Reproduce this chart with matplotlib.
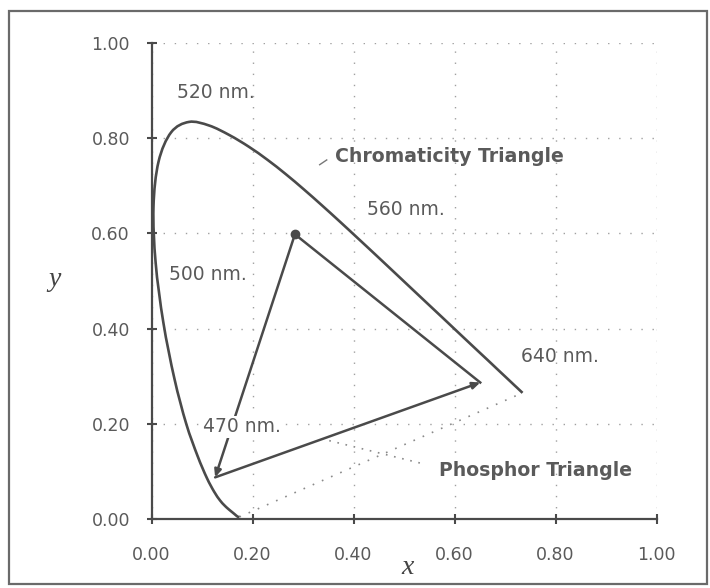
import matplotlib
matplotlib.use("Agg")
import matplotlib.pyplot as plt
import numpy as np
from matplotlib.patches import Rectangle, PathPatch
from matplotlib.path import Path

# Spectral locus (CIE 1931 chromaticity), 380 nm .. 700 nm
locus_x = [0.1741, 0.1740, 0.1738, 0.1736, 0.1733, 0.1730, 0.1726, 0.1721, 0.1714, 0.1703,
           0.1689, 0.1669, 0.1644, 0.1611, 0.1566, 0.1510, 0.1440, 0.1355, 0.1241, 0.1096,
           0.0913, 0.0687, 0.0454, 0.0235, 0.0082, 0.0039, 0.0139, 0.0389, 0.0743, 0.1142,
           0.1547, 0.1929, 0.2296, 0.2658, 0.3016, 0.3373, 0.3731, 0.4087, 0.4441, 0.4788,
           0.5125, 0.5448, 0.5752, 0.6029, 0.6270, 0.6482, 0.6658, 0.6801, 0.6915, 0.7006,
           0.7079, 0.7140, 0.7190, 0.7230, 0.7260, 0.7300, 0.7334, 0.7347]
locus_y = [0.0050, 0.0050, 0.0049, 0.0049, 0.0048, 0.0048, 0.0048, 0.0048, 0.0051, 0.0058,
           0.0069, 0.0086, 0.0109, 0.0138, 0.0177, 0.0227, 0.0297, 0.0399, 0.0578, 0.0868,
           0.1327, 0.2007, 0.2950, 0.4127, 0.5384, 0.6548, 0.7502, 0.8120, 0.8338, 0.8262,
           0.8059, 0.7816, 0.7543, 0.7243, 0.6923, 0.6589, 0.6245, 0.5896, 0.5547, 0.5202,
           0.4866, 0.4544, 0.4242, 0.3965, 0.3725, 0.3514, 0.3340, 0.3197, 0.3083, 0.2993,
           0.2920, 0.2859, 0.2809, 0.2770, 0.2740, 0.2700, 0.2666, 0.2653]

# Phosphor primaries (green, red, blue)
phosphor_names = ["green", "red", "blue"]
phosphor_x = [0.284, 0.651, 0.126]
phosphor_y = [0.598, 0.287, 0.088]

# Annotations
labels = ["520 nm.", "500 nm.", "560 nm.", "640 nm.", "470 nm."]
label_x = [0.051, 0.034, 0.427, 0.731, 0.102]
label_y = [0.895, 0.513, 0.649, 0.341, 0.194]
bold_labels = ["Chromaticity Triangle", "Phosphor Triangle"]
bold_x = [0.364, 0.570]
bold_y = [0.761, 0.103]

ticks = [0.0, 0.2, 0.4, 0.6, 0.8, 1.0]
tick_labels = ["0.00", "0.20", "0.40", "0.60", "0.80", "1.00"]

LINE = "#4a4a4a"
TEXT = "#5a5a5a"


def smooth_path(xs, ys):
    """Catmull-Rom through the points, as cubic Bezier path (data coords)."""
    p = np.column_stack([xs, ys])
    n = len(p)
    verts = [p[0]]
    codes = [Path.MOVETO]
    for i in range(n - 1):
        p0 = p[i - 1] if i > 0 else p[i]
        p1 = p[i]
        p2 = p[i + 1]
        p3 = p[i + 2] if i + 2 < n else p[i + 1]
        c1 = p1 + (p2 - p0) / 6.0
        c2 = p2 - (p3 - p1) / 6.0
        verts += [c1, c2, p2]
        codes += [Path.CURVE4] * 3
    return Path(verts, codes)


fig = plt.figure(figsize=(7.1, 5.88), dpi=100)
ax = fig.add_axes([151.5 / 710, 1 - 519.3 / 588, 505 / 710, 476.6 / 588])

# frame around the whole figure
fig.patches.append(Rectangle((9 / 710, 1 - 584 / 588), 698 / 710, 573 / 588,
                             transform=fig.transFigure, fill=False,
                             edgecolor="#6a6a6a", linewidth=1.6))

ax.set_xlim(0, 1)
ax.set_ylim(0, 1)
for s in ["top", "right"]:
    ax.spines[s].set_visible(False)
for s in ["left", "bottom"]:
    ax.spines[s].set_color(LINE)
    ax.spines[s].set_linewidth(1.6)

ax.set_xticks(ticks)
ax.set_xticklabels(tick_labels)
ax.set_yticks(ticks)
ax.set_yticklabels(tick_labels)
ax.tick_params(axis="both", direction="inout", length=7, width=1.5, color=LINE,
               labelcolor=TEXT, labelsize=12.5)
ax.tick_params(axis="x", pad=16)
ax.tick_params(axis="y", pad=12)

ax.grid(True, linestyle=(0, (1, 7)), color="#a0a0a0", linewidth=1.0)
ax.set_axisbelow(True)

# spectral locus (smooth curve through the data points)
ax.add_patch(PathPatch(smooth_path(locus_x, locus_y), facecolor="none",
                       edgecolor=LINE, linewidth=1.9, clip_on=False, zorder=3))
# line of purples (faint dotted)
ax.plot([locus_x[0], locus_x[-1]], [locus_y[0], locus_y[-1]], linestyle=(0, (1, 5)),
        color="#8a8a8a", linewidth=1.2, zorder=2)

# phosphor triangle
g, r, b = 0, 1, 2
ax.plot([phosphor_x[g], phosphor_x[r]], [phosphor_y[g], phosphor_y[r]],
        color=LINE, linewidth=1.8, zorder=3)
ax.annotate("", xy=(phosphor_x[b], phosphor_y[b]), xytext=(phosphor_x[g], phosphor_y[g]),
            arrowprops=dict(arrowstyle="-|>,head_length=0.45,head_width=0.2",
                            color=LINE, lw=1.8, shrinkA=0, shrinkB=0), zorder=3)
ax.annotate("", xy=(phosphor_x[r], phosphor_y[r]), xytext=(phosphor_x[b], phosphor_y[b]),
            arrowprops=dict(arrowstyle="-|>,head_length=0.45,head_width=0.2",
                            color=LINE, lw=1.8, shrinkA=0, shrinkB=0), zorder=3)
ax.plot([phosphor_x[g]], [phosphor_y[g]], marker="o", markersize=6, color=LINE, zorder=4)

# labels
for t, x, y in zip(labels, label_x, label_y):
    bbox = None
    if t == "470 nm.":
        bbox = dict(facecolor="white", edgecolor="none", pad=1.0)
    ax.text(x, y, t, fontsize=13.5, color=TEXT, ha="left", va="center",
            family="DejaVu Sans", bbox=bbox, zorder=5)
for t, x, y in zip(bold_labels, bold_x, bold_y):
    ax.text(x, y, t, fontsize=13.6, color=TEXT, ha="left", va="center",
            fontweight="bold", family="DejaVu Sans", zorder=5)

# leaders
ax.plot([0.333, 0.347], [0.744, 0.754], color="#777777", linewidth=1.0)
ax.plot([0.352, 0.532], [0.165, 0.118], linestyle=(0, (1, 4)), color="#8a8a8a",
        linewidth=1.2)

# axis titles
fig.text(408 / 710, 1 - 568 / 588, "x", fontsize=20, style="italic",
         family="Liberation Serif", color="#444444", ha="center", va="center")
fig.text(54 / 710, 1 - 280 / 588, "y", fontsize=20, style="italic",
         family="Liberation Serif", color="#444444", ha="center", va="center")

fig.savefig("out.png", dpi=100)
